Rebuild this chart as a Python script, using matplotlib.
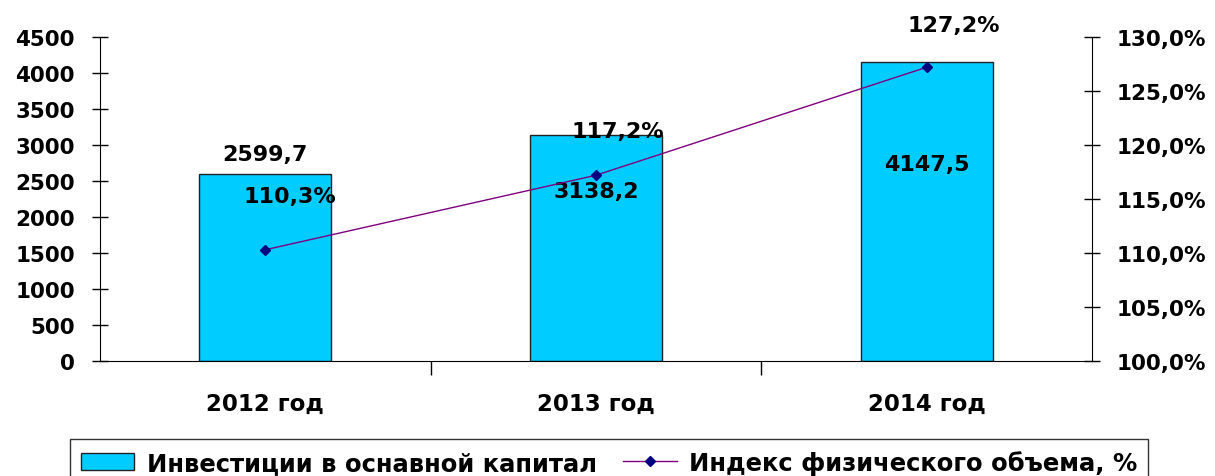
import matplotlib.pyplot as plt
import numpy as np

years = ["2012 год", "2013 год", "2014 год"]
investments = [2599.7, 3138.2, 4147.5]
index_pct = [110.3, 117.2, 127.2]
inv_labels = ["2599,7", "3138,2", "4147,5"]
idx_labels = ["110,3%", "117,2%", "127,2%"]

plt.rcParams['font.family'] = 'DejaVu Sans'
plt.rcParams['font.weight'] = 'bold'

fig = plt.figure(figsize=(12.15, 4.77), dpi=100)
ax1 = fig.add_axes([100 / 1215, 1 - 362 / 477, 992 / 1215, 324 / 477])
ax2 = ax1.twinx()

x = np.arange(len(years))
bars = ax1.bar(x, investments, width=0.4, color='#00CCFF', edgecolor='#222222',
               linewidth=1, label='Инвестиции в оснавной капитал', zorder=2)
line, = ax2.plot(x, index_pct, color='#800080', linewidth=1, marker='D',
                 markersize=5, markerfacecolor='#000080', markeredgecolor='#000080',
                 label='Индекс физического объема, %', zorder=3)

ax1.set_xlim(-0.5, 2.5)
ax1.set_ylim(0, 4500)
ax1.set_yticks(np.arange(0, 4501, 500))
ax2.set_ylim(100, 130)
ax2.set_yticks(np.arange(100, 131, 5))
ax2.set_yticklabels([f"{v:.1f}%".replace('.', ',') for v in np.arange(100, 131, 5)])

ax1.set_xticks([0.5, 1.5])
ax1.set_xticklabels([])
ax1.tick_params(axis='x', length=10, direction='out', width=1)
for i, lab in enumerate(years):
    ax1.text(i, -0.13, lab, transform=ax1.get_xaxis_transform(), ha='center',
             va='center', fontsize=16.5, fontweight='bold')

ax1.tick_params(axis='y', direction='inout', length=12, width=1, labelsize=15.5, pad=12)
ax2.tick_params(axis='y', direction='inout', length=12, width=1, labelsize=15.5, pad=12)

for ax in (ax1, ax2):
    ax.spines['top'].set_visible(False)
    ax.patch.set_visible(False)
ax1.spines['right'].set_visible(False)
ax2.spines['left'].set_visible(False)
ax2.spines['bottom'].set_visible(False)

# bar value labels
inv_label_y = [2875, 2360, 2740]
for i in range(3):
    ax1.text(x[i], inv_label_y[i], inv_labels[i], ha='center', va='center',
             fontsize=16, fontweight='bold')

# index labels (offsets in pixels from the marker)
idx_offsets = [(25, 54), (22, 44), (27, 42)]
for i in range(3):
    ax2.annotate(idx_labels[i], (x[i], index_pct[i]), xytext=idx_offsets[i],
                 textcoords='offset pixels', ha='center', va='center',
                 fontsize=16, fontweight='bold', zorder=4, annotation_clip=False)

leg = fig.legend(handles=[bars, line], loc='upper left',
                 bbox_to_anchor=(70 / 1215, 1 - 440 / 477), borderaxespad=0,
                 ncol=2, frameon=True, fancybox=False, edgecolor='black',
                 prop={'family': 'DejaVu Sans', 'weight': 'bold', 'size': 17.5},
                 handlelength=2.2, handletextpad=0.5, columnspacing=1.1,
                 borderpad=0.45)
leg.get_frame().set_linewidth(1)

fig.savefig('out.png', dpi=100)
